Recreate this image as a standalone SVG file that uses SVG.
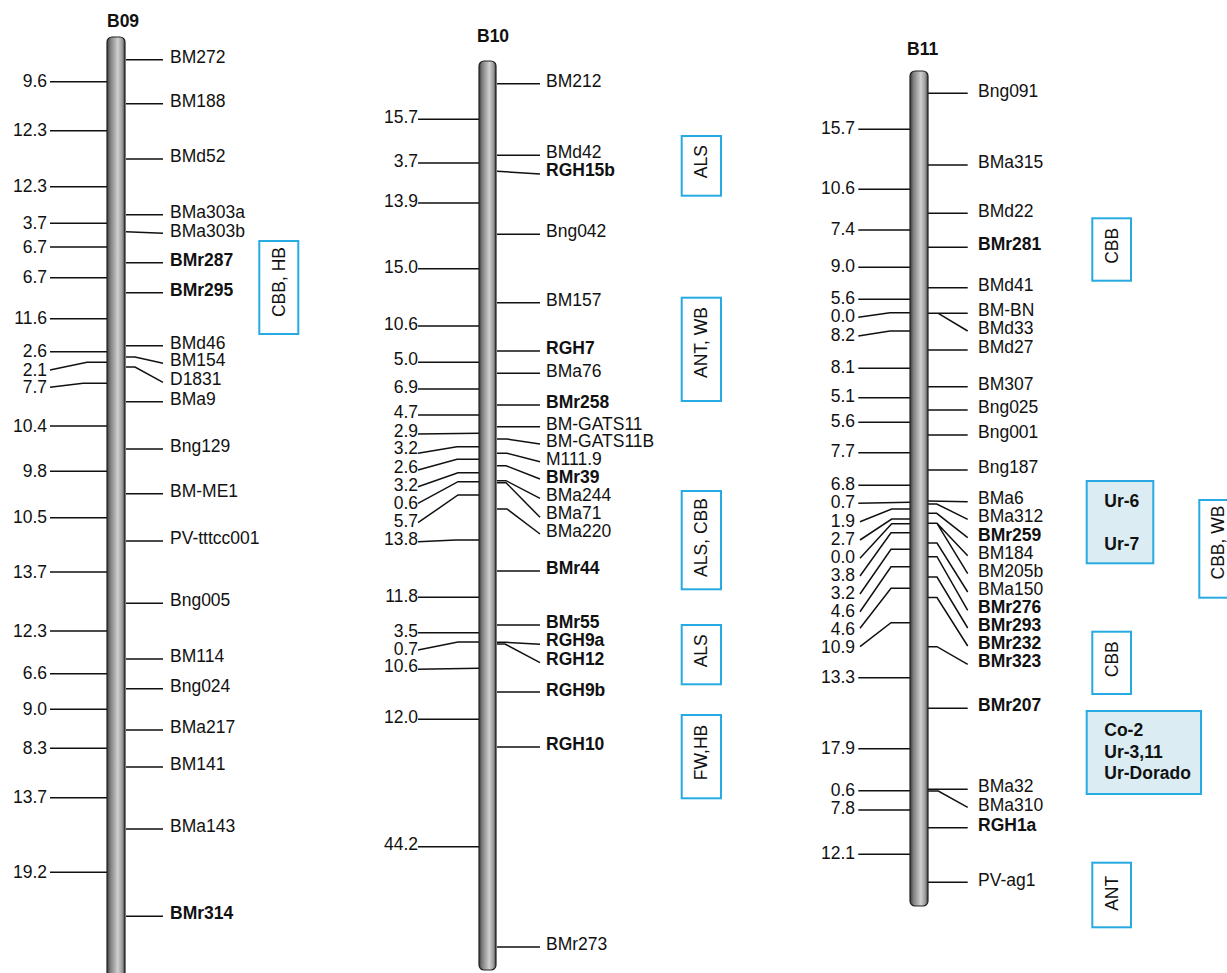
<svg xmlns="http://www.w3.org/2000/svg" width="1227" height="973" viewBox="0 0 1227 973">
<defs>
<linearGradient id="chr" x1="0" y1="0" x2="1" y2="0">
<stop offset="0" stop-color="#3a3a3a"/>
<stop offset="0.18" stop-color="#7c7c7c"/>
<stop offset="0.6" stop-color="#d0d0d0"/>
<stop offset="0.85" stop-color="#9a9a9a"/>
<stop offset="1" stop-color="#3a3a3a"/>
</linearGradient>
</defs>
<style>
text{font-family:"Liberation Sans",Arial,Helvetica,sans-serif;font-size:17.5px;fill:#111}
.b{font-weight:bold}
.e{text-anchor:end}
.m{text-anchor:middle}
.ln path{stroke:#111;stroke-width:1.5;fill:none}
.chr{fill:url(#chr);stroke:#222;stroke-width:1.2}
.box{fill:none;stroke:#27aae1;stroke-width:2}
.fbox{fill:#dbedf3;stroke:#27aae1;stroke-width:2}
</style>
<rect width="1227" height="973" fill="#fff"/>

<g id="connectors" class="ln">
<!-- B09 left -->
<path d="M50 81.7H107M50 130.7H107M50 186.7H107M50 223.3H107M50 247H107M50 277.7H107M50 318.7H107M50 351.7H107M50 370L87 362.3H107M50 387.3L83 383.3H107M50 426H107M50 471.3H107M50 517.7H107M50 572H107M50 631H107M50 673.7H107M50 709.3H107M50 748.3H107M50 797.7H107M50 872.3H107"/>
<!-- B09 right -->
<path d="M126 59.7H163M126 103.7H163M126 159H163M126 214.7H163M126 231.7L163 233.3M126 262.7H163M126 292.7H163M126 345.7H163M126 357H135L163 363.3M126 367H135L163 382.3M126 401.7H163M126 449H163M126 493.7H163M126 541H163M126 603.3H163M126 659H163M126 688.7H163M126 730H163M126 767H163M126 829H163M126 916.3H163"/>
<!-- B10 left -->
<path d="M418 119.3H479M418 163H479M418 203H479M418 268.7H479M418 326H479M418 362.3H479M418 389H479M418 415H479M418 434L479 433.3M418 453.3L457 446.7H479M418 470L457 459.3H479M418 486.7L458 472.7H479M418 503.3L458 481.7H479M418 522.7L458 495H479M418 541.7L456 540H479M418 597.3H479M418 632.7H479M418 650L458 642H479M418 669.3L479 668.3M418 719.3H479M418 846.7H479"/>
<!-- B10 right -->
<path d="M497 83.7H540M497 155.3H540M497 171.3L540 174M497 234.3H540M497 302.7H540M497 351H540M497 373.3H540M497 405H540M497 426.7H540M497 439H507L540 444M497 453.3H507L540 461.7M497 465.7H506L540 479M497 480.7H506L540 498.3M497 482.7H506L540 517.3M497 509H507L540 534M497 571H540M497 625H540M497 642.3H505L540 644.3M497 644H505L540 662.7M497 692H540M497 747H540M497 947H540"/>
<!-- B11 left -->
<path d="M858.3 129.3H910M858.3 189.3H910M858.3 230H910M858.3 267.3H910M858.3 299.3H910M858.3 317.3L890 312.7H910M858.3 336L890 331H910M858.3 368.3H910M858.3 397.7H910M858.3 422.3H910M858.3 452.7H910M858.3 485.3H910M858.3 503.3L910 502.3M860 521.7L891.7 509H910M860 540L891.7 519H910M860 558.3L891.7 523.7H910M860 576L891 532.7H910M860 594L891 549.3H910M860 611.7L891 566.7H910M860 628.3L891 588.3H910M860 646.7L891 622.7H910M858.3 677.7H910M858.3 748.7H910M858.3 790.7H910M858.3 810H910M858.3 854.3H910"/>
<!-- B11 right -->
<path d="M928 93.3H967.7M928 165H967.7M928 213.3H967.7M928 247.3H967.7M928 287.7H967.7M928 313.3H967.7M938.3 313.3L967.7 331M928 350H967.7M928 386.7H967.7M928 410H967.7M928 435H967.7M928 470H967.7M928 501L967.7 501.7M928 504H936.7L967.7 519.3M928 513.3H936.7L967.7 537.7M928 523.3H937L967.7 555.7M937 523.3L967.7 573.7M928 543H937L967.7 592M928 556.7H937L967.7 610.3M928 577H937L967.7 628M928 597.5H937L967.7 646M928 646.7H937L967.7 664.3M928 708.3H967.7M928 789.3H967.7M928 791H938.3L967.7 807.3M928 827.7H967.7M928 882.3H967.7"/>
</g>

<g id="B09">
<rect class="chr" x="107" y="37" width="18" height="960" rx="5"/>
<text class="b" x="107" y="27">B09</text>
<g id="B09-left">
<text class="e" x="47" y="87.2">9.6</text>
<text class="e" x="47" y="136.2">12.3</text>
<text class="e" x="47" y="192.2">12.3</text>
<text class="e" x="47" y="228.8">3.7</text>
<text class="e" x="47" y="252.5">6.7</text>
<text class="e" x="47" y="283.2">6.7</text>
<text class="e" x="47" y="324.2">11.6</text>
<text class="e" x="47" y="357.2">2.6</text>
<text class="e" x="47" y="375.5">2.1</text>
<text class="e" x="47" y="392.8">7.7</text>
<text class="e" x="47" y="431.5">10.4</text>
<text class="e" x="47" y="476.8">9.8</text>
<text class="e" x="47" y="523.2">10.5</text>
<text class="e" x="47" y="577.5">13.7</text>
<text class="e" x="47" y="636.5">12.3</text>
<text class="e" x="47" y="679.2">6.6</text>
<text class="e" x="47" y="714.8">9.0</text>
<text class="e" x="47" y="753.8">8.3</text>
<text class="e" x="47" y="803.2">13.7</text>
<text class="e" x="47" y="877.8">19.2</text>
</g>
<g id="B09-right">
<text x="170" y="62.7">BM272</text>
<text x="170" y="106.7">BM188</text>
<text x="170" y="162">BMd52</text>
<text x="170" y="217.7">BMa303a</text>
<text x="170" y="236.5">BMa303b</text>
<text class="b" x="170" y="265.7">BMr287</text>
<text class="b" x="170" y="295.7">BMr295</text>
<text x="170" y="348.7">BMd46</text>
<text x="170" y="366">BM154</text>
<text x="170" y="384.5">D1831</text>
<text x="170" y="404.7">BMa9</text>
<text x="170" y="452">Bng129</text>
<text x="170" y="496.7">BM-ME1</text>
<text x="170" y="544">PV-tttcc001</text>
<text x="170" y="606.3">Bng005</text>
<text x="170" y="662">BM114</text>
<text x="170" y="691.7">Bng024</text>
<text x="170" y="733">BMa217</text>
<text x="170" y="770">BM141</text>
<text x="170" y="832">BMa143</text>
<text class="b" x="170" y="919.3">BMr314</text>
</g>
</g>

<g id="B10">
<rect class="chr" x="479" y="61" width="17" height="909" rx="5"/>
<text class="b" x="477" y="41.7">B10</text>
<g id="B10-left">
<text class="e" x="418" y="123.3">15.7</text>
<text class="e" x="418" y="166.7">3.7</text>
<text class="e" x="418" y="206.7">13.9</text>
<text class="e" x="418" y="272.7">15.0</text>
<text class="e" x="418" y="330">10.6</text>
<text class="e" x="418" y="365">5.0</text>
<text class="e" x="418" y="392.7">6.9</text>
<text class="e" x="418" y="418">4.7</text>
<text class="e" x="418" y="436.7">2.9</text>
<text class="e" x="418" y="454">3.2</text>
<text class="e" x="418" y="472.7">2.6</text>
<text class="e" x="418" y="490.7">3.2</text>
<text class="e" x="418" y="509">0.6</text>
<text class="e" x="418" y="526.7">5.7</text>
<text class="e" x="418" y="545">13.8</text>
<text class="e" x="418" y="601.7">11.8</text>
<text class="e" x="418" y="636.7">3.5</text>
<text class="e" x="418" y="655">0.7</text>
<text class="e" x="418" y="672.3">10.6</text>
<text class="e" x="418" y="723.3">12.0</text>
<text class="e" x="418" y="850">44.2</text>
</g>
<g id="B10-right">
<text x="546" y="86.7">BM212</text>
<text x="546" y="158.3">BMd42</text>
<text class="b" x="546" y="176">RGH15b</text>
<text x="546" y="237">Bng042</text>
<text x="546" y="306">BM157</text>
<text class="b" x="546" y="353.5">RGH7</text>
<text x="546" y="376.7">BMa76</text>
<text class="b" x="546" y="408.3">BMr258</text>
<text x="546" y="429.5">BM-GATS11</text>
<text x="546" y="447.3">BM-GATS11B</text>
<text x="546" y="465">M111.9</text>
<text class="b" x="546" y="483.3">BMr39</text>
<text x="546" y="501">BMa244</text>
<text x="546" y="519.3">BMa71</text>
<text x="546" y="537.3">BMa220</text>
<text class="b" x="546" y="574">BMr44</text>
<text class="b" x="546" y="627.7">BMr55</text>
<text class="b" x="546" y="646">RGH9a</text>
<text class="b" x="546" y="665">RGH12</text>
<text class="b" x="546" y="695.7">RGH9b</text>
<text class="b" x="546" y="750">RGH10</text>
<text x="546" y="950">BMr273</text>
</g>
</g>

<g id="B11">
<rect class="chr" x="910" y="71" width="18" height="835" rx="5"/>
<text class="b" x="907" y="55">B11</text>
<g id="B11-left">
<text class="e" x="855" y="134">15.7</text>
<text class="e" x="855" y="194">10.6</text>
<text class="e" x="855" y="234.7">7.4</text>
<text class="e" x="855" y="272.3">9.0</text>
<text class="e" x="855" y="304">5.6</text>
<text class="e" x="855" y="322.3">0.0</text>
<text class="e" x="855" y="340.7">8.2</text>
<text class="e" x="855" y="372.7">8.1</text>
<text class="e" x="855" y="402.3">5.1</text>
<text class="e" x="855" y="426.7">5.6</text>
<text class="e" x="855" y="457.3">7.7</text>
<text class="e" x="855" y="490">6.8</text>
<text class="e" x="855" y="508.3">0.7</text>
<text class="e" x="855" y="526.7">1.9</text>
<text class="e" x="855" y="545">2.7</text>
<text class="e" x="855" y="563.3">0.0</text>
<text class="e" x="855" y="580.7">3.8</text>
<text class="e" x="855" y="599.3">3.2</text>
<text class="e" x="855" y="617.3">4.6</text>
<text class="e" x="855" y="635">4.6</text>
<text class="e" x="855" y="653.3">10.9</text>
<text class="e" x="855" y="682.7">13.3</text>
<text class="e" x="855" y="754">17.9</text>
<text class="e" x="855" y="795.7">0.6</text>
<text class="e" x="855" y="814.3">7.8</text>
<text class="e" x="855" y="859">12.1</text>
</g>
<g id="B11-right">
<text x="978" y="96.7">Bng091</text>
<text x="978" y="168.3">BMa315</text>
<text x="978" y="216.7">BMd22</text>
<text class="b" x="978" y="250">BMr281</text>
<text x="978" y="291">BMd41</text>
<text x="978" y="316">BM-BN</text>
<text x="978" y="334">BMd33</text>
<text x="978" y="352.7">BMd27</text>
<text x="978" y="390">BM307</text>
<text x="978" y="413.3">Bng025</text>
<text x="978" y="438.3">Bng001</text>
<text x="978" y="473.3">Bng187</text>
<text x="978" y="504">BMa6</text>
<text x="978" y="522.3">BMa312</text>
<text class="b" x="978" y="540.7">BMr259</text>
<text x="978" y="558.7">BM184</text>
<text x="978" y="576.7">BM205b</text>
<text x="978" y="595">BMa150</text>
<text class="b" x="978" y="613.3">BMr276</text>
<text class="b" x="978" y="631">BMr293</text>
<text class="b" x="978" y="649">BMr232</text>
<text class="b" x="978" y="667.3">BMr323</text>
<text class="b" x="978" y="711">BMr207</text>
<text x="978" y="792.3">BMa32</text>
<text x="978" y="810.7">BMa310</text>
<text class="b" x="978" y="830.7">RGH1a</text>
<text x="978" y="885.7">PV-ag1</text>
</g>
</g>

<g id="box-B09-CBB-HB">
<rect class="box" x="259.3" y="241" width="39" height="93"/>
<text class="m" x="279" y="288" transform="rotate(-90 279 282)">CBB, HB</text>
</g>
<g id="box-B10-ALS1">
<rect class="box" x="681.7" y="136" width="39.3" height="59.7"/>
<text class="m" x="701.3" y="167.7" transform="rotate(-90 701.3 161.7)">ALS</text>
</g>
<g id="box-B10-ANT-WB">
<rect class="box" x="681.7" y="297.7" width="39.3" height="103.3"/>
<text class="m" x="701.3" y="348.5" transform="rotate(-90 701.3 342.5)">ANT, WB</text>
</g>
<g id="box-B10-ALS-CBB">
<rect class="box" x="681.7" y="491" width="39.3" height="98.3"/>
<text class="m" x="701.3" y="543.5" transform="rotate(-90 701.3 537.5)">ALS, CBB</text>
</g>
<g id="box-B10-ALS2">
<rect class="box" x="681.7" y="625" width="39.3" height="59.3"/>
<text class="m" x="701.3" y="656.8" transform="rotate(-90 701.3 650.8)">ALS</text>
</g>
<g id="box-B10-FW-HB">
<rect class="box" x="681.7" y="715" width="39.3" height="83.3"/>
<text class="m" x="701.3" y="758.5" transform="rotate(-90 701.3 752.5)">FW,HB</text>
</g>
<g id="box-B11-CBB1">
<rect class="box" x="1092.3" y="218.3" width="38.7" height="62.4"/>
<text class="m" x="1111.7" y="251.8" transform="rotate(-90 1111.7 245.8)">CBB</text>
</g>
<g id="box-B11-Ur">
<rect class="fbox" x="1086.7" y="481" width="66.6" height="82.3"/>
<text class="b" x="1104.3" y="506.7">Ur-6</text>
<text class="b" x="1104.3" y="550">Ur-7</text>
</g>
<g id="box-B11-CBB-WB">
<rect class="box" x="1199.3" y="500" width="40" height="97.7"/>
<text class="m" x="1218.3" y="548.5" transform="rotate(-90 1218.3 542.5)">CBB, WB</text>
</g>
<g id="box-B11-CBB2">
<rect class="box" x="1092.3" y="631.7" width="38.7" height="62.3"/>
<text class="m" x="1111.7" y="665.2" transform="rotate(-90 1111.7 659.2)">CBB</text>
</g>
<g id="box-B11-Co2">
<rect class="fbox" x="1086.7" y="711" width="114.3" height="83"/>
<text class="b" x="1104.3" y="736">Co-2</text>
<text class="b" x="1104.3" y="758.3">Ur-3,11</text>
<text class="b" x="1104.3" y="779.3">Ur-Dorado</text>
</g>
<g id="box-B11-ANT">
<rect class="box" x="1092.3" y="862.7" width="38.7" height="64.6"/>
<text class="m" x="1111.7" y="899.3" transform="rotate(-90 1111.7 893.3)">ANT</text>
</g>
</svg>
